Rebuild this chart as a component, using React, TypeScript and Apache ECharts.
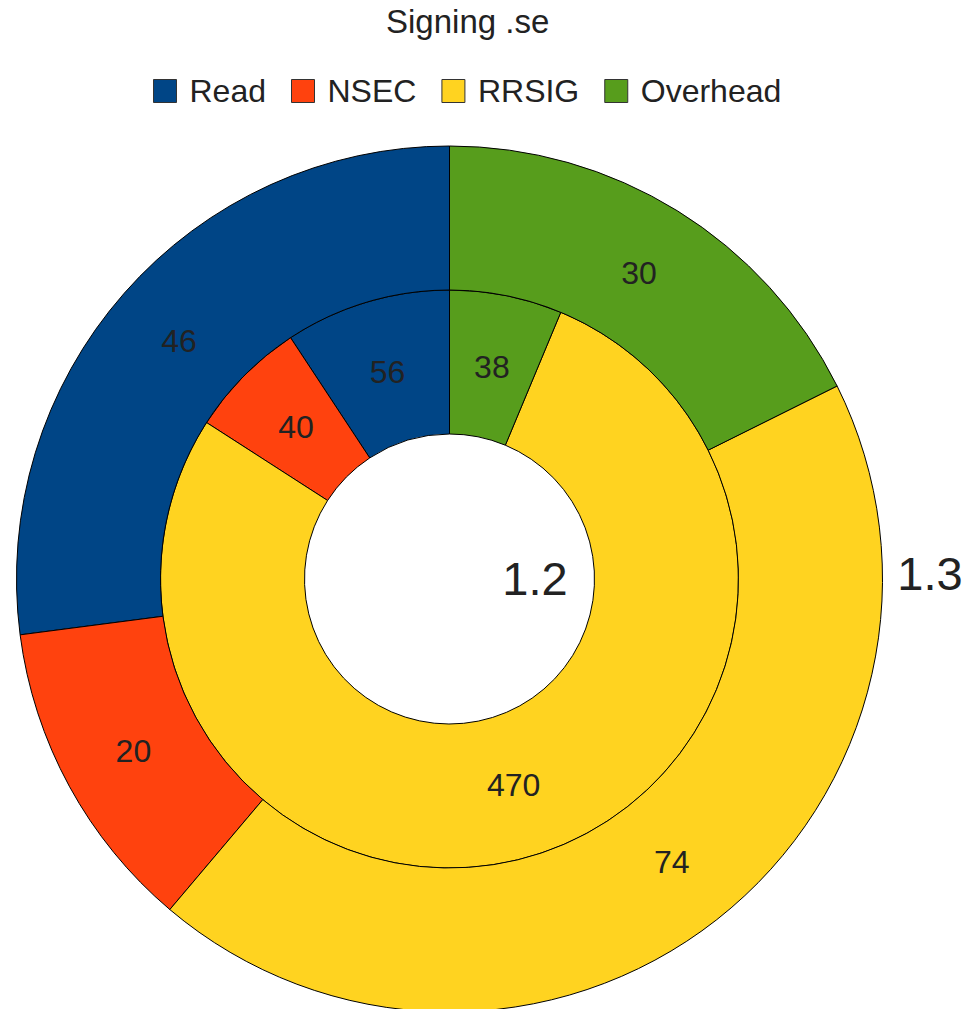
import React, { useEffect, useRef } from "react";
import * as echarts from "echarts";

const categories = ["Read", "NSEC", "RRSIG", "Overhead"];
const colors = ["#004586", "#ff420e", "#ffd320", "#579d1c"];
const innerValues = [56, 40, 470, 38];
const outerValues = [46, 20, 74, 30];
const innerName = "1.2";
const outerName = "1.3";
const titleText = "Signing .se";

const FONT = "'Liberation Sans', Arial, sans-serif";
const TEXT = "#222222";
const CX = 449.5;
const CY = 579;

export default function App() {
  const ref = useRef<HTMLDivElement>(null);
  useEffect(() => {
    document.body.style.margin = "0";
    const chart = echarts.init(ref.current!, undefined, { renderer: "svg" });
    const mk = (vals: number[]) =>
      vals.map((v, i) => ({ name: categories[i], value: v, itemStyle: { color: colors[i] } }));
    const common = {
      type: "pie",
      center: [CX, CY],
      startAngle: 90,
      clockwise: false,
      avoidLabelOverlap: false,
      itemStyle: { borderColor: "#000", borderWidth: 1 },
      label: {
        show: true,
        position: "inside",
        formatter: "{c}",
        fontSize: 32,
        color: TEXT,
        fontFamily: FONT,
      },
      labelLine: { show: false },
      emphasis: { disabled: true },
      labelLayout: (p: any) => {
        const r = p.labelRect;
        const lx = r.x + r.width / 2;
        const ly = r.y + r.height / 2;
        const dx = lx - CX;
        const dy = ly - CY;
        const d = Math.hypot(dx, dy) || 1;
        const f = (d - 4) / d;
        return { x: CX + dx * f, y: CY + dy * f };
      },
    };
    chart.setOption({
      animation: false,
      textStyle: { fontFamily: FONT },
      title: {
        text: titleText,
        left: 381,
        top: 0,
        textStyle: { fontSize: 33, fontWeight: "normal", color: TEXT, fontFamily: FONT },
      },
      legend: {
        data: categories,
        top: 70,
        left: 148,
        itemWidth: 23,
        itemHeight: 23,
        itemGap: 25,
        icon: "rect",
        itemStyle: { borderColor: "#333", borderWidth: 1 },
        textStyle: { fontSize: 32, color: TEXT, fontFamily: FONT, padding: [0, 0, 0, 8] },
      },
      series: [
        { ...common, name: innerName, radius: [145, 289], data: mk(innerValues) },
        { ...common, name: outerName, radius: [289, 433], data: mk(outerValues) },
      ],
      graphic: [
        {
          type: "text",
          x: 535,
          y: 578,
          style: { text: innerName, fontSize: 47, fill: TEXT, fontFamily: FONT, align: "center", verticalAlign: "middle" },
        },
        {
          type: "text",
          x: 930,
          y: 573,
          style: { text: outerName, fontSize: 47, fill: TEXT, fontFamily: FONT, align: "center", verticalAlign: "middle" },
        },
      ],
    });
    return () => chart.dispose();
  }, []);
  return (
    <div
      ref={ref}
      style={{ position: "absolute", left: 0, top: 0, width: 967, height: 1009 }}
    />
  );
}
